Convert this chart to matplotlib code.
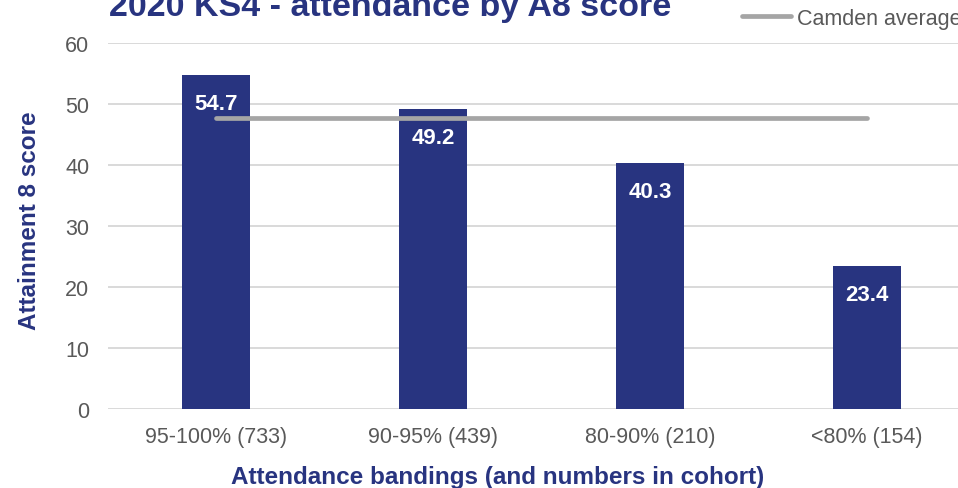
import matplotlib
matplotlib.use("Agg")
import matplotlib.pyplot as plt
from matplotlib.lines import Line2D

plt.rcParams['font.family'] = ['Liberation Sans', 'DejaVu Sans']

categories = ["95-100% (733)", "90-95% (439)", "80-90% (210)", "<80% (154)"]
a8_scores = [54.7, 49.2, 40.3, 23.4]
camden_average = 47.7
y_ticks = [0, 10, 20, 30, 40, 50, 60]

navy = "#283480"
grey_text = "#595959"
avg_grey = "#a5a5a5"

fig = plt.figure(figsize=(9.58, 4.89), dpi=100)
ax = fig.add_axes([107.5 / 958, 1 - 410 / 489, 868 / 958, 366 / 489])

x = list(range(len(categories)))
ax.bar(x, a8_scores, width=0.31, color=navy, zorder=3)

ax.plot([x[0], x[-1]], [camden_average, camden_average], color=avg_grey,
        linewidth=3.4, solid_capstyle='round', zorder=4)

for xi, v in zip(x, a8_scores):
    ax.annotate(f"{v:.1f}", xy=(xi, v), xytext=(0, -20.5), textcoords='offset points',
                ha='center', va='center', color='white', fontsize=16,
                fontweight='bold', zorder=5)

ax.set_xlim(-0.5, len(categories) - 0.5)
ax.set_ylim(0, 60)
ax.set_yticks(y_ticks)
ax.set_xticks(x)
ax.set_xticklabels(categories)
ax.grid(axis='y', color='#d9d9d9', linewidth=1.4, zorder=0)
ax.set_axisbelow(True)
for s in ax.spines.values():
    s.set_visible(False)
ax.tick_params(axis='both', length=0, colors=grey_text, labelsize=15.5)
ax.tick_params(axis='y', pad=13)
ax.tick_params(axis='x', pad=12)

fig.text(30 / 958, 1 - 221 / 489, "Attainment 8 score", rotation=90,
         ha='center', va='center', color=navy, fontsize=17.5, fontweight='bold')
fig.text(498 / 958, 1 - 478 / 489, "Attendance bandings (and numbers in cohort)",
         ha='center', va='center', color=navy, fontsize=17.5, fontweight='bold')
fig.text(390 / 958, 1 - 16 / 489, "2020 KS4 - attendance by A8 score",
         ha='center', va='baseline', color=navy, fontsize=24.5, fontweight='bold')

handle = Line2D([], [], color=avg_grey, linewidth=3.4, solid_capstyle='round')
fig.legend([handle], ["Camden average"], loc='center left',
           bbox_to_anchor=(731 / 958, 1 - 19 / 489), frameon=False,
           handlelength=2.3, handletextpad=0.25, borderpad=0,
           prop={'size': 15.5}, labelcolor=grey_text)

fig.savefig("out.png", dpi=100)
